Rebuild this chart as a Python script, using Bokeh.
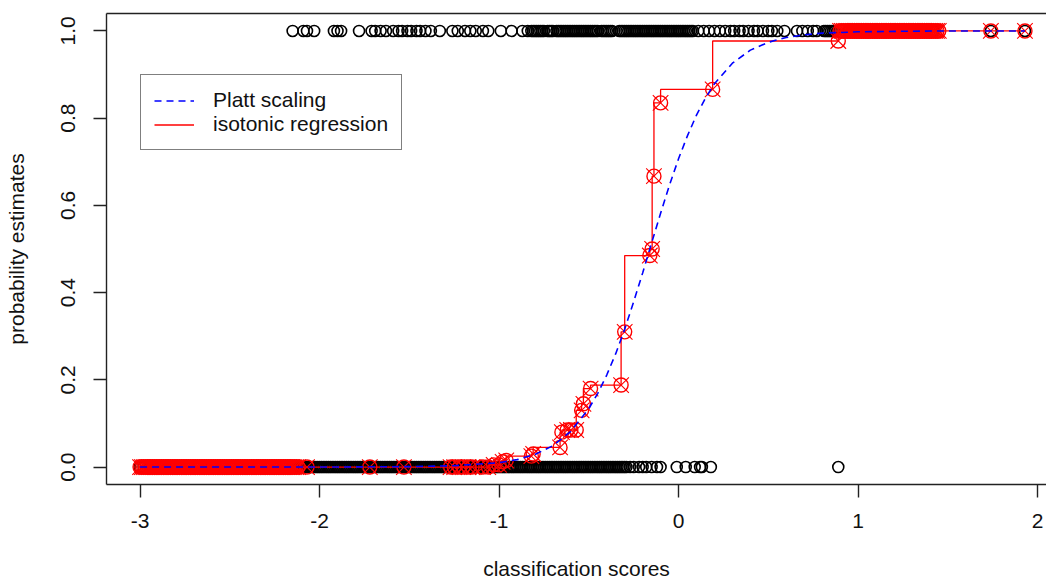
from bokeh.plotting import figure
from bokeh.models import (Range1d, FixedTicker, LinearAxis, Legend, LegendItem,
                          ColumnDataSource)
from bokeh.embed import file_html
from bokeh.resources import INLINE

# ---------------- data ----------------
# classification scores of the negative examples (drawn at y = 0)
neg_x = [-3.00, -3.00, -3.00, -2.98, -2.90, -2.80, -2.60, -2.40, -2.20,
         -2.12, -2.11, -2.10, -2.09, -2.08, -2.07, -2.06, -2.05, -2.04, -2.03,
         -2.02, -2.01, -2.00, -1.99, -1.98, -1.97, -1.96, -1.95, -1.94, -1.93,
         -1.92, -1.91, -1.90, -1.89, -1.88, -1.87, -1.86, -1.85, -1.84, -1.83,
         -1.82, -1.81, -1.80, -1.79, -1.78, -1.77, -1.76, -1.75, -1.74, -1.73,
         -1.72, -1.71, -1.70, -1.69, -1.68, -1.67, -1.66, -1.65, -1.64, -1.63,
         -1.62, -1.61, -1.60, -1.59, -1.58, -1.57, -1.56, -1.55, -1.54, -1.53,
         -1.52, -1.51, -1.50, -1.49, -1.48, -1.47, -1.46, -1.45, -1.44, -1.43,
         -1.42, -1.41, -1.40, -1.39, -1.38, -1.37, -1.36, -1.35, -1.34, -1.33,
         -1.32, -1.31, -1.30, -1.29, -1.28, -1.27, -1.26, -1.25, -1.24, -1.23,
         -1.22, -1.21, -1.20, -1.19, -1.18, -1.17, -1.16, -1.15, -1.14, -1.13,
         -1.12, -1.11, -1.10, -1.09, -1.08, -1.07, -1.06, -1.05, -1.04, -1.03,
         -1.02, -1.01, -1.00, -0.99, -0.98, -0.97, -0.96, -0.95, -0.94, -0.93,
         -0.92, -0.91, -0.90, -0.89, -0.88, -0.87, -0.86, -0.85, -0.84, -0.83,
         -0.82, -0.81, -0.80, -0.79, -0.78, -0.77, -0.76, -0.75, -0.74, -0.73,
         -0.72, -0.71, -0.70, -0.69, -0.68, -0.67, -0.66, -0.65, -0.64, -0.63,
         -0.62, -0.61, -0.60, -0.59, -0.58, -0.57, -0.56, -0.55, -0.54, -0.53,
         -0.52, -0.51, -0.50, -0.49, -0.48, -0.47, -0.46, -0.45, -0.44, -0.43,
         -0.42, -0.41, -0.40, -0.39, -0.38, -0.37, -0.36, -0.35, -0.34, -0.33,
         -0.32, -0.31, -0.30, -0.29, -0.27, -0.25, -0.22, -0.20, -0.18, -0.15,
         -0.12, -0.10, -0.01, 0.04, 0.09, 0.12, 0.13, 0.18, 0.89]

# classification scores of the positive examples (drawn at y = 1)
pos_x = [-2.15, -2.09, -2.07, -2.03, -1.92, -1.90, -1.88, -1.78, -1.71, -1.69,
         -1.66, -1.63, -1.59, -1.56, -1.54, -1.51, -1.49, -1.46, -1.44, -1.41,
         -1.38, -1.33, -1.26, -1.23, -1.19, -1.16, -1.13, -1.09, -1.06, -0.99,
         -0.93, -0.87, -0.84,
         -0.82, -0.81, -0.80, -0.79, -0.78, -0.77, -0.76, -0.75, -0.73, -0.72,
         -0.71, -0.70, -0.68, -0.67, -0.66, -0.65, -0.64, -0.63, -0.62, -0.61,
         -0.60, -0.59, -0.58, -0.57, -0.56, -0.55, -0.54, -0.53, -0.52, -0.51,
         -0.50, -0.49, -0.48, -0.47, -0.46, -0.45, -0.43, -0.42, -0.41, -0.40,
         -0.39, -0.38, -0.37,
         -0.33, -0.32, -0.31, -0.30, -0.29, -0.28, -0.27, -0.26, -0.25, -0.24,
         -0.23, -0.22, -0.21, -0.20, -0.19, -0.18, -0.17, -0.16, -0.15, -0.14,
         -0.13, -0.12, -0.11, -0.10, -0.09, -0.08, -0.07, -0.06, -0.05, -0.04,
         -0.03, -0.02, -0.01, 0.00, 0.01, 0.02, 0.03, 0.04, 0.05, 0.06, 0.07,
         0.08, 0.11, 0.14, 0.17, 0.20, 0.23, 0.26, 0.29, 0.31, 0.34, 0.36, 0.39,
         0.42, 0.44, 0.47, 0.50, 0.52, 0.55, 0.59, 0.66, 0.69, 0.72, 0.75, 0.77,
         0.81, 0.82, 0.83, 0.84, 0.85, 0.86, 0.87, 0.95, 1.05, 1.15, 1.25, 1.35,
         1.42, 1.74, 1.93]

# isotonic-regression fitted points: low plateau (0), transition, high plateau (1)
iso_low_x = [-3.00, -2.99, -2.98, -2.97, -2.96, -2.95, -2.94, -2.93, -2.92,
             -2.91, -2.90, -2.89, -2.88, -2.87, -2.86, -2.85, -2.84, -2.83,
             -2.82, -2.81, -2.80, -2.79, -2.78, -2.77, -2.76, -2.75, -2.74,
             -2.73, -2.72, -2.71, -2.70, -2.69, -2.68, -2.67, -2.66, -2.65,
             -2.64, -2.63, -2.62, -2.61, -2.60, -2.59, -2.58, -2.57, -2.56,
             -2.55, -2.54, -2.53, -2.52, -2.51, -2.50, -2.49, -2.48, -2.47,
             -2.46, -2.45, -2.44, -2.43, -2.42, -2.41, -2.40, -2.39, -2.38,
             -2.37, -2.36, -2.35, -2.34, -2.33, -2.32, -2.31, -2.30, -2.29,
             -2.28, -2.27, -2.26, -2.25, -2.24, -2.23, -2.22, -2.21, -2.20,
             -2.19, -2.18, -2.17, -2.16, -2.15, -2.14, -2.13, -2.12]
iso_mid_x = [-2.07, -1.72, -1.53, -1.27, -1.25, -1.22, -1.20, -1.17, -1.15,
             -1.09, -1.06, -1.03, -1.00, -0.98, -0.96, -0.82, -0.81, -0.66,
             -0.65, -0.62, -0.60, -0.57, -0.54, -0.53, -0.49, -0.32, -0.30,
             -0.16, -0.147, -0.137, -0.10, 0.19, 0.89]
iso_mid_y = [0.0, 0.0, 0.0, 0.0, 0.0, 0.0, 0.0, 0.0, 0.0,
             0.0, 0.0, 0.005, 0.005, 0.012, 0.015, 0.025, 0.03, 0.045,
             0.08, 0.085, 0.085, 0.085, 0.13, 0.145, 0.18, 0.188, 0.31,
             0.485, 0.50, 0.667, 0.835, 0.866, 0.977]
iso_high_x = [0.90, 0.91, 0.92, 0.93, 0.94, 0.95, 0.96, 0.97, 0.98, 0.99,
              1.00, 1.01, 1.02, 1.03, 1.04, 1.05, 1.06, 1.07, 1.08, 1.09,
              1.10, 1.11, 1.12, 1.13, 1.14, 1.15, 1.16, 1.17, 1.18, 1.19,
              1.20, 1.21, 1.22, 1.23, 1.24, 1.25, 1.26, 1.27, 1.28, 1.29,
              1.30, 1.31, 1.32, 1.33, 1.34, 1.35, 1.36, 1.37, 1.38, 1.39,
              1.40, 1.41, 1.42, 1.43, 1.44, 1.45, 1.74, 1.93]

# Platt scaling curve
platt_x = [-3.0, -2.5, -2.0, -1.5, -1.25, -1.0, -0.9, -0.8, -0.7, -0.6, -0.5,
           -0.45, -0.4, -0.35, -0.3, -0.25, -0.2, -0.15, -0.1, -0.05, 0.0,
           0.05, 0.1, 0.15, 0.2, 0.3, 0.4, 0.5, 0.6, 0.7, 0.8, 1.0, 1.2, 1.5,
           1.93]
platt_y = [0.0, 0.0, 0.0, 0.001, 0.003, 0.010, 0.017, 0.029, 0.049, 0.082,
           0.134, 0.169, 0.211, 0.260, 0.316, 0.379, 0.445, 0.514, 0.582,
           0.647, 0.707, 0.760, 0.807, 0.846, 0.879, 0.926, 0.956, 0.974,
           0.985, 0.991, 0.995, 0.998, 0.999, 1.0, 1.0]

x_ticks = [-3, -2, -1, 0, 1, 2]
x_tick_labels = ["-3", "-2", "-1", "0", "1", "2"]
y_ticks = [0.0, 0.2, 0.4, 0.6, 0.8, 1.0]
y_tick_labels = ["0.0", "0.2", "0.4", "0.6", "0.8", "1.0"]

# ---------------- figure ----------------
FONT = "Liberation Sans"
AXIS_COL = "#222222"
TXT_COL = "#111111"

p = figure(width=1046, height=582,
           x_range=Range1d(-3.187, 2.05), y_range=Range1d(-0.04, 1.04),
           output_backend="svg", toolbar_location=None,
           min_border_left=106, min_border_right=0,
           min_border_top=13, min_border_bottom=98)
p.outline_line_color = None
p.grid.visible = False
p.background_fill_color = "white"
p.border_fill_color = "white"

for ax in (p.xaxis[0], p.yaxis[0]):
    ax.major_tick_out = 13
    ax.major_tick_in = 0
    ax.minor_tick_out = 0
    ax.minor_tick_in = 0
    ax.axis_line_color = AXIS_COL
    ax.axis_line_width = 1.4
    ax.major_tick_line_color = AXIS_COL
    ax.major_tick_line_width = 1.4
    ax.major_label_text_font = FONT
    ax.major_label_text_font_size = "21px"
    ax.major_label_text_color = TXT_COL
    ax.axis_label_text_font = FONT
    ax.axis_label_text_font_size = "21px"
    ax.axis_label_text_font_style = "normal"
    ax.axis_label_text_color = TXT_COL

p.xaxis[0].ticker = FixedTicker(ticks=x_ticks)
p.xaxis[0].major_label_overrides = {t: s for t, s in zip(x_ticks, x_tick_labels)}
p.xaxis[0].axis_label = "classification scores"
p.xaxis[0].major_label_standoff = 16
p.xaxis[0].axis_label_standoff = 26

p.yaxis[0].ticker = FixedTicker(ticks=y_ticks)
p.yaxis[0].major_label_overrides = {t: s for t, s in zip(y_ticks, y_tick_labels)}
p.yaxis[0].major_label_orientation = "vertical"
p.yaxis[0].axis_label = "probability estimates"
p.yaxis[0].major_label_standoff = 18
p.yaxis[0].axis_label_standoff = 31

top = LinearAxis(ticker=FixedTicker(ticks=[]), major_label_text_font_size="0px",
                 major_tick_out=0, major_tick_in=0, minor_tick_out=0, minor_tick_in=0,
                 axis_line_color=AXIS_COL, axis_line_width=1.4)
p.add_layout(top, "above")

# data points
p.scatter(neg_x, [0.0] * len(neg_x), marker="circle", size=11,
          fill_color=None, line_color="black", line_width=1.6)
p.scatter(pos_x, [1.0] * len(pos_x), marker="circle", size=11,
          fill_color=None, line_color="black", line_width=1.6)

iso_x = iso_low_x + iso_mid_x + iso_high_x
iso_y = [0.0] * len(iso_low_x) + iso_mid_y + [1.0] * len(iso_high_x)
iso_src = ColumnDataSource(data=dict(x=iso_x, y=iso_y))

p.scatter("x", "y", source=iso_src, marker="circle", size=14,
          fill_color=None, line_color="red", line_width=1.4)
p.scatter("x", "y", source=iso_src, marker="x", size=22,
          line_color="red", line_width=1.1)

iso_line = p.step("x", "y", source=iso_src, mode="before",
                  line_color="red", line_width=1.3)
platt_line = p.line(platt_x, platt_y, line_color="blue", line_width=1.6,
                    line_dash="7 5")

legend = Legend(items=[LegendItem(label="Platt scaling", renderers=[platt_line]),
                       LegendItem(label="isotonic regression", renderers=[iso_line])],
                location=(34, 334))
legend.label_text_font = FONT
legend.label_text_font_size = "21px"
legend.label_text_color = TXT_COL
legend.border_line_color = "black"
legend.border_line_width = 1.2
legend.background_fill_alpha = 1.0
legend.padding = 13
legend.spacing = 0
legend.glyph_width = 40
legend.glyph_height = 23
legend.label_height = 23
legend.label_standoff = 19
legend.margin = 0
p.add_layout(legend, "center")

open("out.html", "w").write(file_html(p, INLINE))
